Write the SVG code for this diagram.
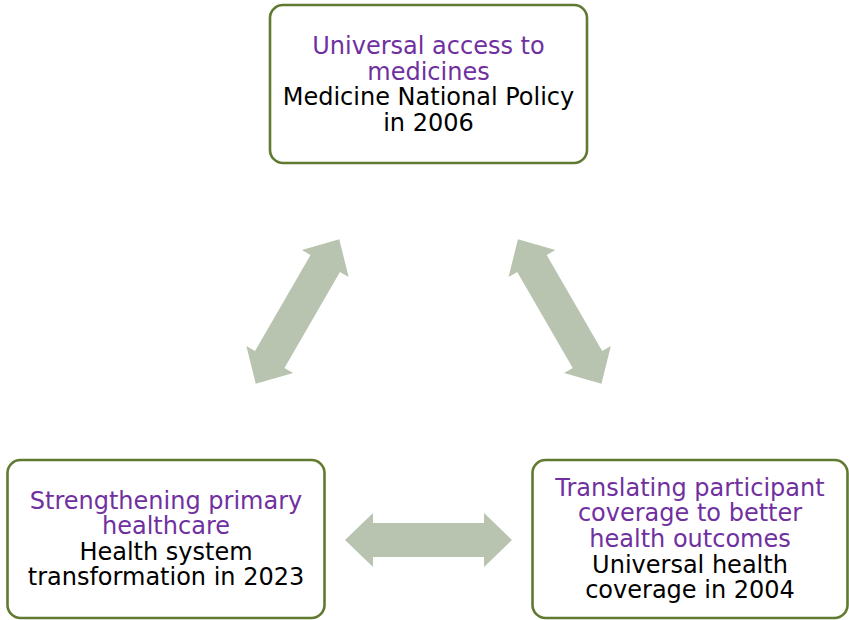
<svg xmlns="http://www.w3.org/2000/svg" width="849" height="620" viewBox="0 0 849 620">
<defs>
<style>
.box{fill:#ffffff;stroke:#617a31;stroke-width:2.6}
.t{font-family:"DejaVu Sans","Liberation Sans",sans-serif;font-size:24px;text-anchor:middle}
.p{fill:#7030a0}
.k{fill:#000000}
.arr{fill:#b8c4af}
</style>
<path id="dbl" d="M-83.5,0 L-55.5,-27 L-55.5,-17 L55.5,-17 L55.5,-27 L83.5,0 L55.5,27 L55.5,17 L-55.5,17 L-55.5,27 Z"/>
</defs>
<rect width="849" height="620" fill="#ffffff"/>
<g id="connectors">
<use href="#dbl" class="arr" transform="translate(297.5,311.5) rotate(-60)"/>
<use href="#dbl" class="arr" transform="translate(559.7,311.5) rotate(60)"/>
<use href="#dbl" class="arr" transform="translate(428.5,540)"/>
</g>
<g id="node-top">
<rect class="box" x="270" y="5" width="317" height="158" rx="13"/>
<text class="t p" x="428.5" y="54.2">Universal access to</text>
<text class="t p" x="428.5" y="79.8">medicines</text>
<text class="t k" x="428.5" y="105.4">Medicine National Policy</text>
<text class="t k" x="428.5" y="131">in 2006</text>
</g>
<g id="node-left">
<rect class="box" x="7.5" y="460" width="317" height="158" rx="13"/>
<text class="t p" x="166" y="508.5">Strengthening primary</text>
<text class="t p" x="166" y="534.1">healthcare</text>
<text class="t k" x="166" y="559.7">Health system</text>
<text class="t k" x="166" y="585.3">transformation in 2023</text>
</g>
<g id="node-right">
<rect class="box" x="532.5" y="460" width="315" height="158" rx="13"/>
<text class="t p" x="690" y="495.8">Translating participant</text>
<text class="t p" x="690" y="521.4">coverage to better</text>
<text class="t p" x="690" y="547">health outcomes</text>
<text class="t k" x="690" y="572.6">Universal health</text>
<text class="t k" x="690" y="598.2">coverage in 2004</text>
</g>
</svg>
